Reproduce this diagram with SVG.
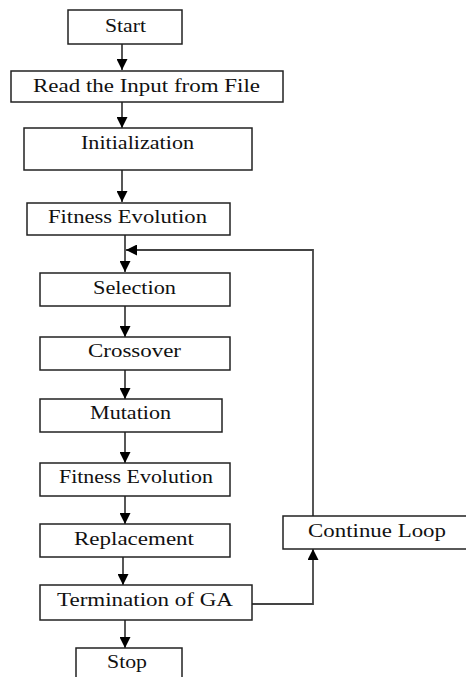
<svg xmlns="http://www.w3.org/2000/svg" width="466" height="677" viewBox="0 0 466 677">
<style>
.box{fill:#fff;stroke:#222;stroke-width:1.5}
.lbl{font-family:"Liberation Serif","Times New Roman",serif;font-size:18px;fill:#111}
.con{fill:none;stroke:#444;stroke-width:1.8}
</style>
<defs>
<marker id="ah" viewBox="0 0 10 10" refX="10" refY="5" markerWidth="11" markerHeight="11" markerUnits="userSpaceOnUse" orient="auto">
<path d="M0,0 L10,5 L0,10 Z" fill="#000"/>
</marker>
</defs>
<rect width="466" height="677" fill="#fff"/>
<g id="connectors">
<path class="con" d="M122,44 V70" marker-end="url(#ah)"/>
<path class="con" d="M122,102 V128" marker-end="url(#ah)"/>
<path class="con" d="M122,170 V202" marker-end="url(#ah)"/>
<path class="con" d="M125,235 V272" marker-end="url(#ah)"/>
<path class="con" d="M125,306 V337" marker-end="url(#ah)"/>
<path class="con" d="M125,370 V399" marker-end="url(#ah)"/>
<path class="con" d="M125,432 V463" marker-end="url(#ah)"/>
<path class="con" d="M125,496 V524" marker-end="url(#ah)"/>
<path class="con" d="M123,557 V585" marker-end="url(#ah)"/>
<path class="con" d="M125,620 V648" marker-end="url(#ah)"/>
<path class="con" d="M252,604 H313 V549" marker-end="url(#ah)"/>
<path class="con" d="M313,516 V250 H126" marker-end="url(#ah)"/>
</g>
<g id="start"><rect class="box" x="68" y="10" width="114" height="34"/><text class="lbl" x="105" y="32" textLength="41" lengthAdjust="spacingAndGlyphs">Start</text></g>
<g id="read"><rect class="box" x="11" y="71" width="272" height="31"/><text class="lbl" x="33" y="92" textLength="227" lengthAdjust="spacingAndGlyphs">Read the Input from File</text></g>
<g id="init"><rect class="box" x="24" y="128" width="228" height="42"/><text class="lbl" x="81" y="149" textLength="113" lengthAdjust="spacingAndGlyphs">Initialization</text></g>
<g id="fitness1"><rect class="box" x="27" y="203" width="203" height="32"/><text class="lbl" x="48" y="223" textLength="159" lengthAdjust="spacingAndGlyphs">Fitness Evolution</text></g>
<g id="selection"><rect class="box" x="40" y="273" width="190" height="33"/><text class="lbl" x="93" y="294" textLength="83" lengthAdjust="spacingAndGlyphs">Selection</text></g>
<g id="crossover"><rect class="box" x="40" y="337" width="190" height="33"/><text class="lbl" x="88" y="357" textLength="93" lengthAdjust="spacingAndGlyphs">Crossover</text></g>
<g id="mutation"><rect class="box" x="40" y="399" width="182" height="33"/><text class="lbl" x="90" y="419" textLength="81" lengthAdjust="spacingAndGlyphs">Mutation</text></g>
<g id="fitness2"><rect class="box" x="40" y="463" width="190" height="33"/><text class="lbl" x="59" y="483" textLength="154" lengthAdjust="spacingAndGlyphs">Fitness Evolution</text></g>
<g id="replacement"><rect class="box" x="40" y="524" width="190" height="33"/><text class="lbl" x="74" y="545" textLength="120" lengthAdjust="spacingAndGlyphs">Replacement</text></g>
<g id="termination"><rect class="box" x="40" y="585" width="212" height="35"/><text class="lbl" x="57" y="606" textLength="176" lengthAdjust="spacingAndGlyphs">Termination of GA</text></g>
<g id="stop"><rect class="box" x="76" y="648" width="106" height="40"/><text class="lbl" x="107" y="668" textLength="40" lengthAdjust="spacingAndGlyphs">Stop</text></g>
<g id="continue"><rect class="box" x="283" y="516" width="190" height="33"/><text class="lbl" x="308" y="537" textLength="138" lengthAdjust="spacingAndGlyphs">Continue Loop</text></g>
</svg>
